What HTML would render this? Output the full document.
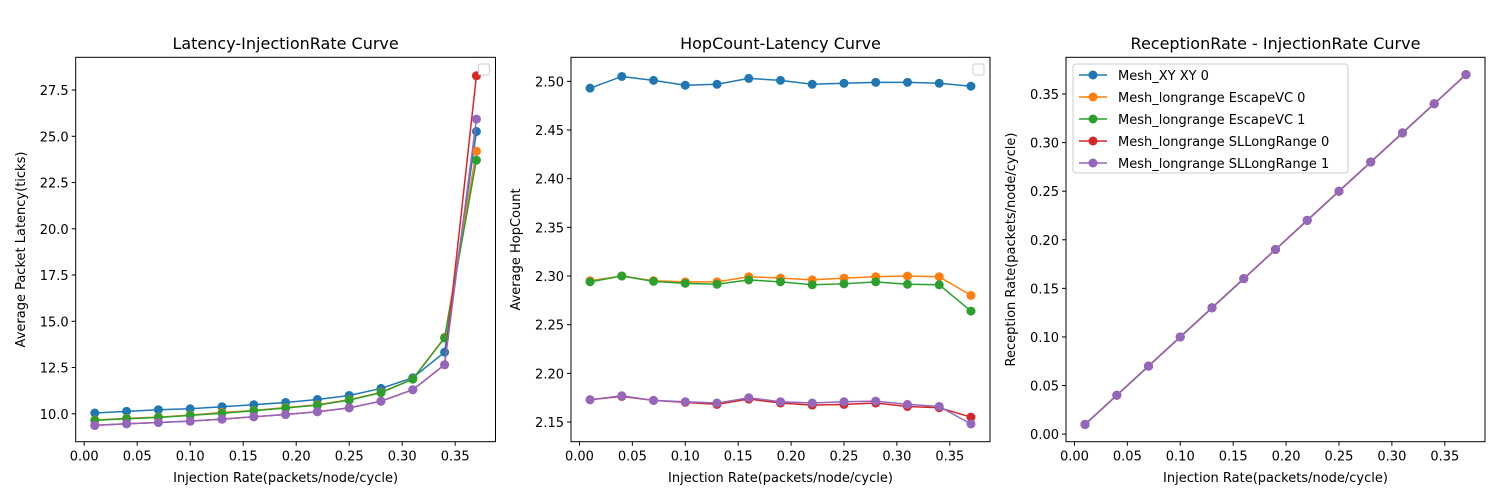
<!DOCTYPE html>
<html><head><meta charset="utf-8"><style>
body{margin:0;background:#fff}
svg{display:block;font-family:"DejaVu Sans","Liberation Sans",sans-serif}
</style></head><body>
<svg id="fig" width="1500" height="500"></svg>
<script>
const xVals=[0.01,0.04,0.07,0.10,0.13,0.16,0.19,0.22,0.25,0.28,0.31,0.34,0.37];
const seriesNames=["Mesh_XY XY 0","Mesh_longrange EscapeVC 0","Mesh_longrange EscapeVC 1","Mesh_longrange SLLongRange 0","Mesh_longrange SLLongRange 1"];
const colors=["#1f77b4","#ff7f0e","#2ca02c","#d62728","#9467bd"];
const lat0=[10.04,10.13,10.22,10.27,10.38,10.49,10.61,10.77,10.99,11.37,11.95,13.33,25.26];
const lat1=[9.66,9.75,9.82,9.93,10.07,10.18,10.33,10.49,10.76,11.16,11.88,14.13,24.2];
const lat2=[9.64,9.73,9.80,9.91,10.03,10.16,10.31,10.47,10.74,11.14,11.87,14.10,23.71];
const lat3=[9.37,9.46,9.53,9.60,9.71,9.84,9.96,10.11,10.32,10.68,11.30,12.65,28.27];
const lat4=[9.37,9.46,9.53,9.60,9.71,9.84,9.96,10.11,10.32,10.68,11.30,12.65,25.93];
const hop0=[2.493,2.505,2.501,2.496,2.497,2.503,2.501,2.497,2.498,2.499,2.499,2.498,2.495];
const hop1=[2.2952,2.300,2.2952,2.294,2.294,2.2993,2.2979,2.296,2.2979,2.2993,2.300,2.2993,2.2801];
const hop2=[2.294,2.300,2.2945,2.2925,2.2915,2.296,2.294,2.291,2.292,2.294,2.2915,2.291,2.264];
const hop3=[2.1729,2.1763,2.1722,2.1702,2.1681,2.1736,2.1695,2.1674,2.1681,2.1695,2.166,2.1647,2.1551];
const hop4=[2.1729,2.177,2.1722,2.1709,2.1695,2.175,2.1709,2.1695,2.1709,2.1715,2.1681,2.166,2.148];
const rec0=[0.01,0.04,0.07,0.10,0.13,0.16,0.19,0.22,0.25,0.28,0.31,0.34,0.37];
const xTicks=[0,0.05,0.1,0.15,0.2,0.25,0.3,0.35];
const latTicks=[10,12.5,15,17.5,20,22.5,25,27.5];
const hopTicks=[2.15,2.2,2.25,2.3,2.35,2.4,2.45,2.5];
const recTicks=[0,0.05,0.1,0.15,0.2,0.25,0.3,0.35];

const NS="http://www.w3.org/2000/svg";
const svg=document.getElementById('fig');
function mk(tag,attrs,parent){const e=document.createElementNS(NS,tag);for(const k in attrs)e.setAttribute(k,attrs[k]);(parent||svg).appendChild(e);return e;}
function txt(s,attrs,parent){const e=mk('text',attrs,parent);e.textContent=s;return e;}

const topY=57.3,bot=441.7;
function panel(o){
  const g=mk('g',{});
  
  
  const X=v=>o.x0+(v-o.xmin)/(o.xmax-o.xmin)*(o.x1-o.x0);
  const Y=v=>bot-(v-o.ymin)/(o.ymax-o.ymin)*(bot-topY);
  const fr=mk('rect',{x:o.x0,y:topY,width:o.x1-o.x0,height:bot-topY,fill:'none',stroke:'#000','stroke-width':1},g);
  
  
  xTicks.forEach(t=>{const x=X(t);mk('line',{x1:x,x2:x,y1:bot,y2:bot+4,stroke:'#000'},g);
    const l=txt(t.toFixed(2),{x:x,y:bot+19,'font-size':13,'text-anchor':'middle'},g);
    
    });
  o.yTicks.forEach(t=>{const y=Y(t);mk('line',{x1:o.x0-4,x2:o.x0,y1:y,y2:y,stroke:'#000'},g);
    const l=txt(t.toFixed(o.yd),{x:o.x0-7,y:y+5,'font-size':13,'text-anchor':'end'},g);
    
    });
  const ti=txt(o.title,{x:(o.x0+o.x1)/2,y:49,'font-size':16,'text-anchor':'middle'},g);
  
  
  const xl=txt('Injection Rate(packets/node/cycle)',{x:(o.x0+o.x1)/2,y:482,'font-size':13,'text-anchor':'middle'},g);
  
  
  const yl=txt(o.ylabel,{x:0,y:0,'font-size':13,'text-anchor':'middle',transform:`translate(${o.ylx},${(topY+bot)/2}) rotate(-90)`},g);
  
  
  o.series.forEach((s,i)=>{
    const sg=mk('g',{},g);
    
    
    mk('polyline',{points:xVals.map((x,j)=>X(x)+','+Y(s[j])).join(' '),fill:'none',stroke:colors[i],'stroke-width':1.5},sg);
    xVals.forEach((x,j)=>{const c=mk('circle',{cx:X(x),cy:Y(s[j]),r:4.5,fill:colors[i]},sg);
      
      });
  });
  if(o.legend){
    const lg=mk('g',{},g);
    
    
    mk('rect',{x:o.x0+7,y:64,width:275,height:109,rx:3,fill:'#fff',stroke:'#ccc','fill-opacity':0.8},lg);
    seriesNames.forEach((n,i)=>{const y=75+22*i;
      const e=mk('g',{},lg);
      
      
      mk('line',{x1:o.x0+13,x2:o.x0+41,y1:y,y2:y,stroke:colors[i],'stroke-width':1.5},e);
      mk('circle',{cx:o.x0+27,cy:y,r:4.5,fill:colors[i]},e);
      txt(n,{x:o.x0+52,y:y+5,'font-size':13},e);});
  } else {
    const lg=mk('rect',{x:o.x1-17,y:64,width:11,height:11,rx:2,fill:'#fff',stroke:'#ccc'},g);
    
    
  }
}
panel({name:'latency-panel',title:'Latency-InjectionRate Curve',ylabel:'Average Packet Latency(ticks)',x0:75.7,x1:495.5,xmin:-0.008,xmax:0.388,ymin:8.49,ymax:29.27,yTicks:latTicks,yd:1,ylx:25,series:[lat0,lat1,lat2,lat3,lat4]});
panel({name:'hopcount-panel',title:'HopCount-Latency Curve',ylabel:'Average HopCount',x0:571,x1:990,xmin:-0.008,xmax:0.388,ymin:2.1298,ymax:2.5247,yTicks:hopTicks,yd:2,ylx:520,series:[hop0,hop1,hop2,hop3,hop4]});
panel({name:'reception-panel',title:'ReceptionRate - InjectionRate Curve',ylabel:'Reception Rate(packets/node/cycle)',x0:1066,x1:1485,xmin:-0.008,xmax:0.388,ymin:-0.0078,ymax:0.3878,yTicks:recTicks,yd:2,ylx:1015,legend:true,series:[rec0,rec0,rec0,rec0,rec0]});
</script>
</body></html>
